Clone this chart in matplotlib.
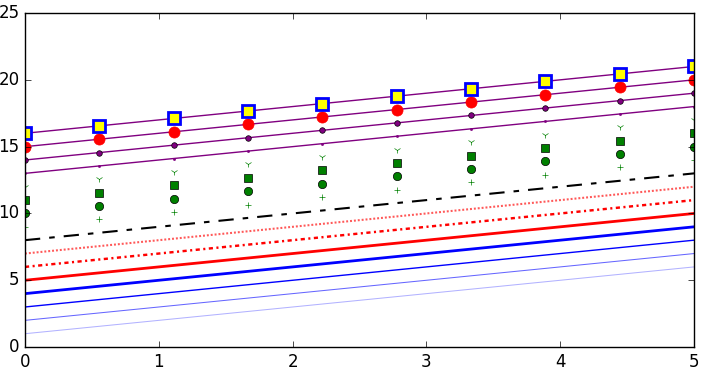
import numpy as np
import matplotlib
matplotlib.use("Agg")
import matplotlib.pyplot as plt

plt.style.use("classic")
plt.rcParams["lines.scale_dashes"] = False

# x positions of the sample points
t = np.linspace(0, 5, 10)

# vertical offsets of each line (y = t + offset)
offset_thin_blue = [1, 2, 3]
offset_thick_blue = 4
offset_red_solid = 5
offset_red_dashdot = 6
offset_red_dotted = 7
offset_black_dashed = 8
offset_green_markers = [9, 10, 11, 12]
green_marker_styles = ["+", "o", "s", "1"]
offset_purple = [13, 14, 15, 16]

fig = plt.figure(figsize=(7.04, 3.72), dpi=100)
ax = fig.add_subplot(111)
fig.subplots_adjust(left=0.0355, right=0.986, top=0.965, bottom=0.067)

# thin blue lines with varying transparency
for k, alpha, lw in zip(offset_thin_blue, [0.3, 0.6, 1.0], [0.75, 0.75, 1.0]):
    ax.plot(t, t + k, color="b", alpha=alpha, lw=lw)

ax.plot(t, t + offset_thick_blue, color="b", lw=2)
ax.plot(t, t + offset_red_solid, color="r", lw=2)
ax.plot(t, t + offset_red_dashdot, color="r", lw=1.75,
        linestyle=(0, (3, 2.5, 1.5, 2.5)))
ax.plot(t, t + offset_red_dotted, color="r", lw=1.5,
        linestyle=(0, (1.4, 1.4)), alpha=0.65)
ax.plot(t, t + offset_black_dashed, color="k", lw=1.5,
        linestyle=(0, (11, 6.5, 4, 6.5)))

# green markers only
for k, m in zip(offset_green_markers, green_marker_styles):
    ms = 6 if m in ("o", "s") else 5
    ax.plot(t, t + k, color="g", marker=m, linestyle="none", ms=ms)

# purple lines with various markers
ax.plot(t, t + offset_purple[0], color="purple", marker=".", ms=3)
ax.plot(t, t + offset_purple[1], color="purple", marker="o", ms=4)
ax.plot(t, t + offset_purple[2], color="purple", marker="o", ms=8, mfc="r", mec="r")
ax.plot(t, t + offset_purple[3], color="purple", marker="s", ms=8, mfc="yellow",
        mec="b", mew=2)

ax.set_xlim(0, 5)
ax.set_ylim(0, 25)
ax.set_xticks([0, 1, 2, 3, 4, 5])
ax.set_yticks([0, 5, 10, 15, 20, 25])

plt.savefig("out.png", dpi=100)
plt.close()
